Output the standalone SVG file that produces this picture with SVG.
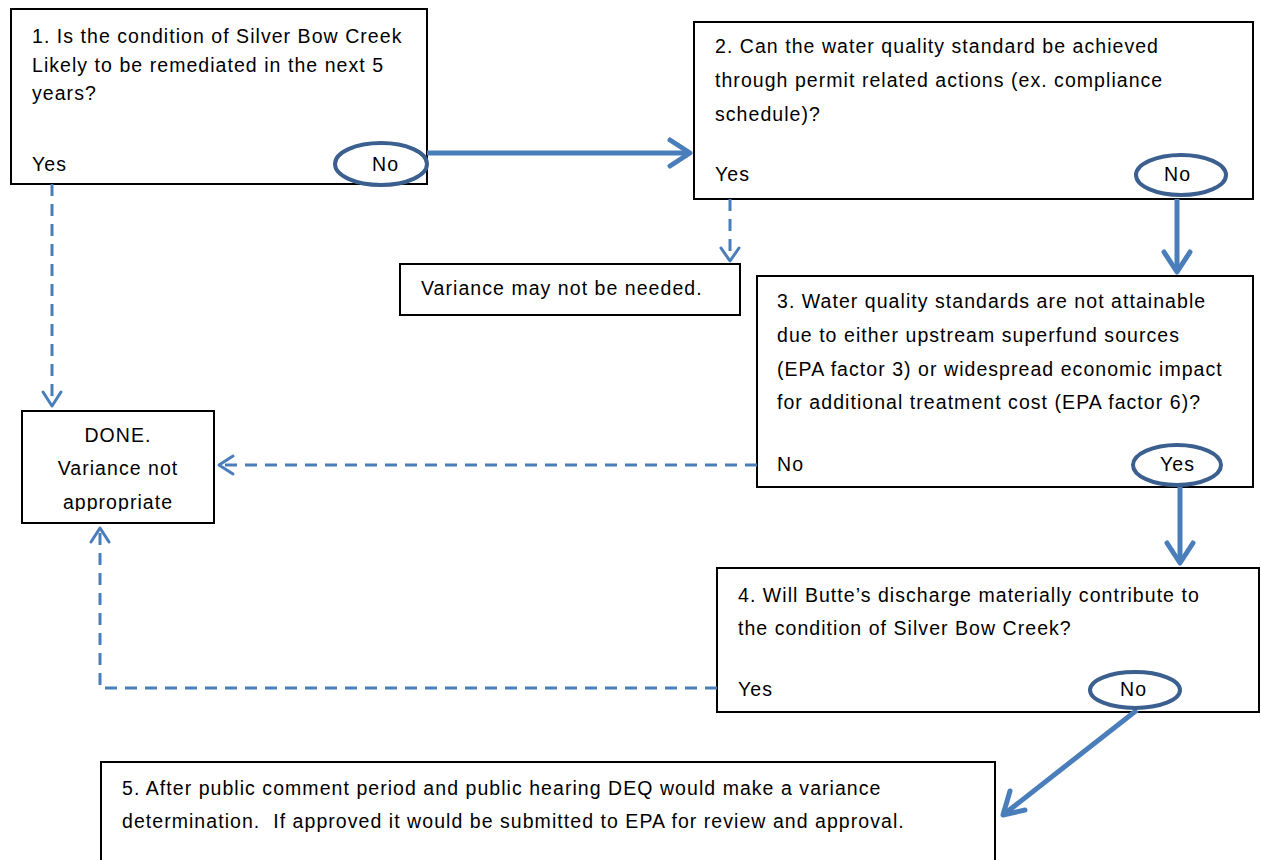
<svg xmlns="http://www.w3.org/2000/svg" width="1261" height="860" viewBox="0 0 1261 860">
<style>
.box{fill:#fff;stroke:#000;stroke-width:2}
.t{font-family:"Liberation Sans",Arial,sans-serif;font-size:19.5px;letter-spacing:1.05px;fill:#000}
.ov{fill:none;stroke:#3b5f8e;stroke-width:4}
.solid{fill:none;stroke:#4a7ebb;stroke-width:5}
.dash{fill:none;stroke:#4a7ebb;stroke-width:3;stroke-dasharray:12 8}
.head{fill:none;stroke:#4a7ebb;stroke-linecap:round;stroke-linejoin:round}
</style>
<defs>
<clipPath id="cd"><rect x="22" y="411" width="192" height="100"/></clipPath>
</defs>
<rect width="1261" height="860" fill="#fff"/>
<g id="n1">
<rect class="box" x="11" y="9" width="416" height="175"/>
<text class="t" x="32" y="43">1. Is the condition of Silver Bow Creek</text>
<text class="t" x="32" y="72">Likely to be remediated in the next 5</text>
<text class="t" x="32" y="100">years?</text>
<text class="t" x="32" y="171">Yes</text>
<text class="t" x="372" y="171">No</text>
</g>
<g id="n2">
<rect class="box" x="694" y="22" width="559" height="177"/>
<text class="t" x="715" y="53">2. Can the water quality standard be achieved</text>
<text class="t" x="715" y="87">through permit related actions (ex. compliance</text>
<text class="t" x="715" y="121">schedule)?</text>
<text class="t" x="715" y="181">Yes</text>
<text class="t" x="1164" y="181">No</text>
</g>
<g id="nv">
<rect class="box" x="400" y="264" width="340" height="51"/>
<text class="t" x="421" y="295">Variance may not be needed.</text>
</g>
<g id="n3">
<rect class="box" x="757" y="276" width="496" height="211"/>
<text class="t" x="777" y="308">3. Water quality standards are not attainable</text>
<text class="t" x="777" y="342">due to either upstream superfund sources</text>
<text class="t" x="777" y="376">(EPA factor 3) or widespread economic impact</text>
<text class="t" x="777" y="409">for additional treatment cost (EPA factor 6)?</text>
<text class="t" x="777" y="471">No</text>
<text class="t" x="1160" y="471">Yes</text>
</g>
<g id="ndone">
<rect class="box" x="22" y="411" width="192" height="112"/>
<g clip-path="url(#cd)">
<text class="t" x="118" y="442" text-anchor="middle">DONE.</text>
<text class="t" x="118" y="475" text-anchor="middle">Variance not</text>
<text class="t" x="118" y="509" text-anchor="middle">appropriate</text>
</g>
</g>
<g id="n4">
<rect class="box" x="717" y="568" width="542" height="144"/>
<text class="t" x="738" y="602">4. Will Butte’s discharge materially contribute to</text>
<text class="t" x="738" y="635">the condition of Silver Bow Creek?</text>
<text class="t" x="738" y="696">Yes</text>
<text class="t" x="1120" y="696">No</text>
</g>
<g id="n5">
<rect class="box" x="101" y="762" width="894" height="110"/>
<text class="t" x="122" y="795">5. After public comment period and public hearing DEQ would make a variance</text>
<text class="t" x="122" y="828" xml:space="preserve" style="white-space:pre">determination.  If approved it would be submitted to EPA for review and approval.</text>
</g>
<g id="connectors">
<path class="solid" d="M427,153 H690"/>
<path class="head" stroke-width="5" d="M670,140 L690,153 L670,166"/>
<path class="solid" d="M1177,199 V272"/>
<path class="head" stroke-width="5" d="M1164,252 L1177,272 L1190,252"/>
<path class="solid" d="M1180,487 V563"/>
<path class="head" stroke-width="5" d="M1167,543 L1180,563 L1193,543"/>
<path class="solid" d="M1137,710 L1003,815"/>
<path class="head" stroke-width="5" d="M1010,791 L1003,815 L1025,810"/>
<path class="dash" d="M52,184 V406"/>
<path class="head" stroke-width="3" d="M43,392 L52,406 L61,392"/>
<path class="dash" d="M730,199 V261"/>
<path class="head" stroke-width="3" d="M721,248 L730,261 L739,248"/>
<path class="dash" d="M757,465 H219"/>
<path class="head" stroke-width="3" d="M233,456 L219,465 L233,474"/>
<path class="dash" d="M717,688 H100 V528"/>
<path class="head" stroke-width="3" d="M91,542 L100,528 L109,542"/>
<ellipse class="ov" cx="381" cy="164" rx="46" ry="21"/>
<ellipse class="ov" cx="1181" cy="175" rx="45" ry="20"/>
<ellipse class="ov" cx="1177" cy="465" rx="44" ry="20"/>
<ellipse class="ov" cx="1135" cy="690" rx="45" ry="18"/>
</g>
</svg>
